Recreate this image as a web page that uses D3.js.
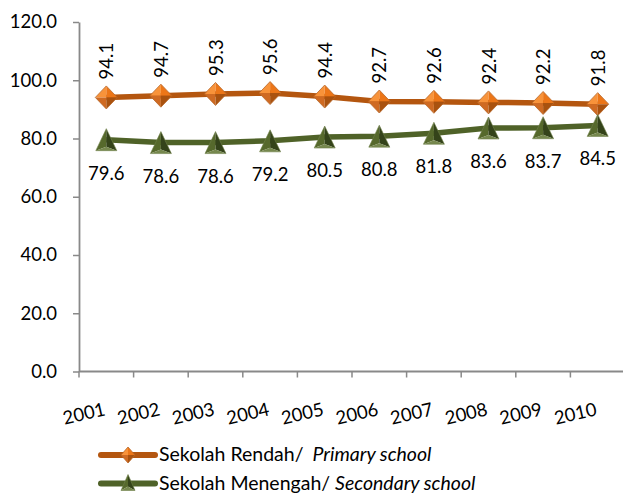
<!DOCTYPE html>
<html>
<head>
<meta charset="utf-8">
<script src="https://cdn.jsdelivr.net/npm/d3@7"></script>
<style>
  body { margin: 0; background: #fff; }
  svg { display: block; font-family: Lato, "Open Sans", sans-serif; }
</style>
</head>
<body>
<svg id="chart" width="623" height="494"></svg>
<script>
// Enrolment rate by school level, 2001–2010
const years = ["2001", "2002", "2003", "2004", "2005", "2006", "2007", "2008", "2009", "2010"];
const primary = [94.1, 94.7, 95.3, 95.6, 94.4, 92.7, 92.6, 92.4, 92.2, 91.8];
const secondary = [79.6, 78.6, 78.6, 79.2, 80.5, 80.8, 81.8, 83.6, 83.7, 84.5];
const yTicks = [0, 20, 40, 60, 80, 100, 120];
const primaryName = ["Sekolah Rendah/ ", "Primary school"];
const secondaryName = ["Sekolah Menengah/ ", "Secondary school"];

const svg = d3.select("#chart");
const x = d3.scaleBand().domain(years).range([79, 625]).padding(0);
const y = d3.scaleLinear().domain([0, 120]).range([371.5, 22]);
const cx = d => x(d) + x.bandwidth() / 2;

const axisColor = "#898989";
const orangeLine = "#B4560F";
const greenLine = "#4F6228";
const fs = 18.5;

// Y axis
const yAxis = svg.append("g")
  .attr("transform", "translate(79,0)")
  .call(d3.axisLeft(y).tickValues(yTicks).tickFormat(d3.format(".1f"))
    .tickSize(6).tickSizeOuter(0).tickPadding(16));
yAxis.select(".domain").attr("stroke", axisColor).attr("stroke-width", 1.8);
yAxis.selectAll(".tick line").attr("stroke", axisColor).attr("stroke-width", 1.5);
yAxis.selectAll(".tick text").attr("font-size", fs).attr("fill", "#000")
  .style("font-family", "Lato, sans-serif");

// X axis: baseline and ticks at category boundaries
const xAxis = svg.append("g");
xAxis.append("line")
  .attr("x1", 79).attr("x2", 625).attr("y1", y(0)).attr("y2", y(0))
  .attr("stroke", axisColor).attr("stroke-width", 1.8);
xAxis.selectAll("line.tick").data(years.concat(["end"])).join("line")
  .attr("class", "tick")
  .attr("x1", d => d === "end" ? 625 : x(d))
  .attr("x2", d => d === "end" ? 625 : x(d))
  .attr("y1", y(0)).attr("y2", y(0) + 6)
  .attr("stroke", axisColor).attr("stroke-width", 1.5);
xAxis.selectAll("text").data(years).join("text")
  .attr("transform", d => `translate(${cx(d)},415) rotate(-13)`)
  .attr("text-anchor", "end")
  .attr("font-size", fs)
  .text(d => d);

// Series lines
const line = d3.line().x((d, i) => cx(years[i])).y(d => y(d));
svg.append("path").datum(primary).attr("d", line)
  .attr("fill", "none").attr("stroke", orangeLine).attr("stroke-width", 5.5)
  .attr("stroke-linejoin", "round");
svg.append("path").datum(secondary).attr("d", line)
  .attr("fill", "none").attr("stroke", greenLine).attr("stroke-width", 5.5)
  .attr("stroke-linejoin", "round");

// Bevelled marker shapes
function diamond(g, px, py, w, h) {
  const l = [px - w / 2, py], t = [px, py - h / 2], r = [px + w / 2, py], b = [px, py + h / 2], c = [px, py];
  const facets = [
    [[l, t, c], "#F8933A"],
    [[t, r, c], "#EC7618"],
    [[l, b, c], "#CF6A22"],
    [[r, b, c], "#A9520F"]
  ];
  facets.forEach(([pts, col]) => g.append("polygon")
    .attr("points", pts.map(p => p.join(",")).join(" ")).attr("fill", col));
  g.append("polygon").attr("points", [l, t, r, b].map(p => p.join(",")).join(" "))
    .attr("fill", "none").attr("stroke", "#B8672A").attr("stroke-width", 0.8);
}
function triangle(g, px, py, w, h) {
  const a = [px, py - h / 2], bl = [px - w / 2, py + h / 2], br = [px + w / 2, py + h / 2], m = [px, py + h / 2 - 4];
  const facets = [
    [[a, bl, m], "#56692C"],
    [[a, br, m], "#34431A"],
    [[bl, br, m], "#76884E"]
  ];
  facets.forEach(([pts, col]) => g.append("polygon")
    .attr("points", pts.map(p => p.join(",")).join(" ")).attr("fill", col));
  g.append("polygon").attr("points", [a, bl, br].map(p => p.join(",")).join(" "))
    .attr("fill", "none").attr("stroke", "#6E7F48").attr("stroke-width", 0.6);
}

const markers = svg.append("g");
primary.forEach((v, i) => diamond(markers, cx(years[i]), y(v), 22, 23));
secondary.forEach((v, i) => triangle(markers, cx(years[i]), y(v), 21, 22));

// Data labels
svg.append("g").selectAll("text").data(primary).join("text")
  .attr("transform", (d, i) => `translate(${cx(years[i]) + 7},${y(d) - 18}) rotate(-90)`)
  .attr("font-size", fs)
  .text(d => d.toFixed(1));
svg.append("g").selectAll("text").data(secondary).join("text")
  .attr("x", (d, i) => cx(years[i]))
  .attr("y", d => y(d) + 40)
  .attr("text-anchor", "middle")
  .attr("font-size", fs)
  .text(d => d.toFixed(1));

// Legend
function legendRow(yPos, color, name, gap, drawMarker) {
  const g = svg.append("g");
  g.append("line").attr("x1", 101).attr("x2", 155).attr("y1", yPos).attr("y2", yPos)
    .attr("stroke", color).attr("stroke-width", 6).attr("stroke-linecap", "round");
  drawMarker(g);
  const t = g.append("text").attr("x", 159).attr("y", yPos + 6).attr("font-size", 19.5);
  t.append("tspan").text(name[0]);
  t.append("tspan").attr("dx", gap).attr("font-style", "italic").text(name[1]);
}
legendRow(455, orangeLine, primaryName, 4, g => diamond(g, 128, 455, 14, 16));
legendRow(483.5, greenLine, secondaryName, 0, g => triangle(g, 128, 482.5, 14, 16));
</script>
</body>
</html>
